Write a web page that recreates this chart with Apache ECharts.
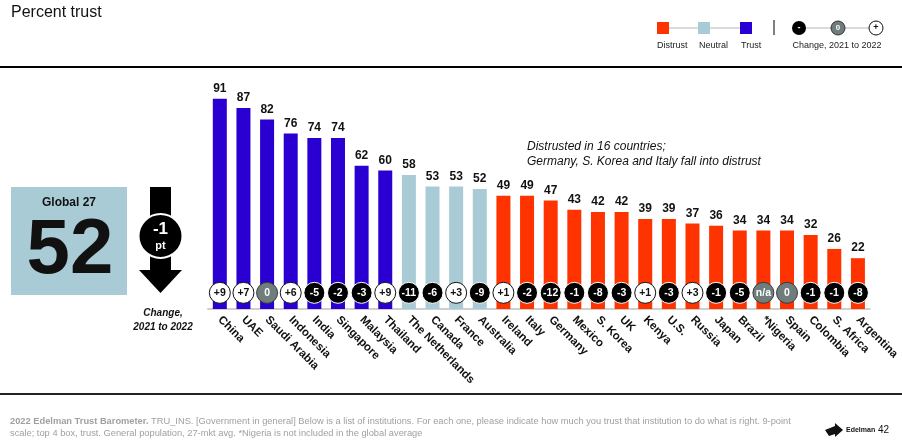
<!DOCTYPE html>
<html><head><meta charset="utf-8">
<script src="https://cdn.jsdelivr.net/npm/echarts@6/dist/echarts.min.js"></script>
<style>html,body{margin:0;padding:0;background:#fff}#c{width:902px;height:444px}</style>
</head><body><div id="c"></div>
<script>
const countries = ['China','UAE','Saudi Arabia','Indonesia','India','Singapore','Malaysia','Thailand','The Netherlands','Canada','France','Australia','Ireland','Italy','Germany','Mexico','S. Korea','UK','Kenya','U.S.','Russia','Japan','Brazil','*Nigeria','Spain','Colombia','S. Africa','Argentina'];
const trust = [91,87,82,76,74,74,62,60,58,53,53,52,49,49,47,43,42,42,39,39,37,36,34,34,34,32,26,22];
const change = ['+9','+7','0','+6','-5','-2','-3','+9','-11','-6','+3','-9','+1','-2','-12','-1','-8','-3','+1','-3','+3','-1','-5','n/a','0','-1','-1','-8'];
const globalValue = 52;
const globalChange = '-1';

const FONT = "'Liberation Sans', Arial, sans-serif";
const RED = '#ff3300', NEUTRAL = '#a9cbd5', BLUE = '#2a00d2', GREY = '#6f7d7c';
function barColor(v){ return v >= 60 ? BLUE : (v >= 50 ? NEUTRAL : RED); }
function circStyle(c){
  if (c.startsWith('+')) return {fill:'#fff', stroke:'#111', text:'#111'};
  if (c === '0' || c === 'n/a') return {fill:GREY, stroke:'#3a3a3a', text:'#fff'};
  return {fill:'#000', stroke:'#fff', text:'#fff'};
}
const CIRCLE_Y = 7;

const chart = echarts.init(document.getElementById('c'), null, {renderer:'canvas'});
chart.setOption({
  animation:false,
  textStyle:{fontFamily:FONT},
  grid:{left:208, right:19, top:78, bottom:135},
  xAxis:{type:'category', data:countries,
    axisLine:{show:true, lineStyle:{color:'#cfcfcf', width:2}},
    axisTick:{show:false},
    axisLabel:{interval:0, rotate:-45, margin:9, fontSize:11.5, fontWeight:'bold', color:'#111', fontFamily:FONT}},
  yAxis:{type:'value', min:0, max:100, show:false, splitLine:{show:false}},
  series:[
    {type:'bar', barWidth:14, z:2,
     data: trust.map(v=>({value:v, itemStyle:{color:barColor(v)}})),
     label:{show:true, position:'top', distance:4, fontSize:12, fontWeight:'bold', color:'#111', fontFamily:FONT}},
    {type:'scatter', z:5, symbol:'circle', symbolSize:21,
     data: change.map((c,i)=>{const s=circStyle(c); return {value:[i, CIRCLE_Y],
        itemStyle:{color:s.fill, borderColor:s.stroke, borderWidth:1, opacity:1},
        label:{show:true, position:'inside', formatter:c, color:s.text, fontSize:10.5, fontWeight:'bold', fontFamily:FONT}};}),
     emphasis:{disabled:true}}
  ],
  graphic:[
    {type:'text', left:11, top:5, style:{text:'Percent trust', font:'16px '+FONT, fill:'#111'}},
    {type:'rect', shape:{x:0,y:66,width:902,height:2}, style:{fill:'#000'}},
    {type:'rect', shape:{x:0,y:393,width:902,height:2}, style:{fill:'#222'}},
    // legend
    {type:'line', shape:{x1:663,y1:28,x2:746,y2:28}, style:{stroke:'#cfcfcf', lineWidth:1.5}},
    {type:'rect', shape:{x:657,y:22,width:12,height:12}, style:{fill:RED}},
    {type:'rect', shape:{x:698,y:22,width:12,height:12}, style:{fill:NEUTRAL}},
    {type:'rect', shape:{x:740,y:22,width:12,height:12}, style:{fill:BLUE}},
    {type:'text', x:657, y:41, style:{text:'Distrust', font:'9px '+FONT, fill:'#222'}},
    {type:'text', x:699, y:41, style:{text:'Neutral', font:'9px '+FONT, fill:'#222'}},
    {type:'text', x:741, y:41, style:{text:'Trust', font:'9px '+FONT, fill:'#222'}},
    {type:'line', shape:{x1:774,y1:20,x2:774,y2:35}, style:{stroke:'#555', lineWidth:1.5}},
    {type:'line', shape:{x1:799,y1:28,x2:876,y2:28}, style:{stroke:'#cfcfcf', lineWidth:1.5}},
    {type:'circle', shape:{cx:799,cy:28,r:7}, style:{fill:'#000'}},
    {type:'circle', shape:{cx:838,cy:28,r:7}, style:{fill:GREY, stroke:'#333', lineWidth:1}},
    {type:'circle', shape:{cx:876,cy:28,r:7}, style:{fill:'#fff', stroke:'#111', lineWidth:1}},
    {type:'text', x:799, y:28, style:{text:'-', font:'bold 9px '+FONT, fill:'#fff', align:'center', verticalAlign:'middle'}},
    {type:'text', x:838, y:28, style:{text:'0', font:'bold 8px '+FONT, fill:'#fff', align:'center', verticalAlign:'middle'}},
    {type:'text', x:876, y:28, style:{text:'+', font:'bold 9px '+FONT, fill:'#111', align:'center', verticalAlign:'middle'}},
    {type:'text', x:837, y:41, style:{text:'Change, 2021 to 2022', font:'9px '+FONT, fill:'#222', align:'center'}},
    // global box
    {type:'rect', shape:{x:11,y:187,width:116,height:108}, style:{fill:NEUTRAL}},
    {type:'text', x:69, y:203, style:{text:'Global 27', font:'bold 12px '+FONT, fill:'#111', align:'center', verticalAlign:'middle'}},
    {type:'text', x:70, y:251.5, style:{text:String(globalValue), font:'bold 78px '+FONT, fill:'#111', align:'center', verticalAlign:'middle'}},
    // arrow
    {type:'rect', shape:{x:150,y:187,width:21,height:84}, style:{fill:'#000'}},
    {type:'polygon', shape:{points:[[139,270],[182,270],[160.5,293]]}, style:{fill:'#000'}},
    {type:'circle', shape:{cx:160.5,cy:236,r:22}, style:{fill:'#000', stroke:'#fff', lineWidth:2}},
    {type:'text', x:160.5, y:229, style:{text:globalChange, font:'bold 17px '+FONT, fill:'#fff', align:'center', verticalAlign:'middle'}},
    {type:'text', x:160.5, y:246, style:{text:'pt', font:'bold 11px '+FONT, fill:'#fff', align:'center', verticalAlign:'middle'}},
    {type:'text', x:163, y:313, style:{text:'Change,', font:'italic bold 10px '+FONT, fill:'#111', align:'center', verticalAlign:'middle'}},
    {type:'text', x:163, y:327, style:{text:'2021 to 2022', font:'italic bold 10px '+FONT, fill:'#111', align:'center', verticalAlign:'middle'}},
    // annotation
    {type:'text', x:527, y:139, style:{text:'Distrusted in 16 countries;\nGermany, S. Korea and Italy fall into distrust', font:'italic 12px '+FONT, fill:'#111', lineHeight:15}},
    // footer
    {type:'text', x:10, y:415, style:{text:'{b|2022 Edelman Trust Barometer.} TRU_INS. [Government in general] Below is a list of institutions. For each one, please indicate how much you trust that institution to do what is right. 9-point\nscale; top 4 box, trust. General population, 27-mkt avg. *Nigeria is not included in the global average',
      font:'9.3px '+FONT, fill:'#a0a0a0', lineHeight:12, rich:{b:{font:'bold 9.3px '+FONT, fill:'#a0a0a0'}}}},
    {type:'polygon', shape:{points:[[825,430],[835,426],[835,423],[843,430],[835,437],[835,434],[829,436]]}, style:{fill:'#111'}},
    {type:'text', x:846, y:430, style:{text:'Edelman', font:'bold 7px '+FONT, fill:'#111', verticalAlign:'middle'}},
    {type:'text', x:878, y:430, style:{text:'42', font:'10px '+FONT, fill:'#111', verticalAlign:'middle'}}
  ]
});
</script></body></html>
